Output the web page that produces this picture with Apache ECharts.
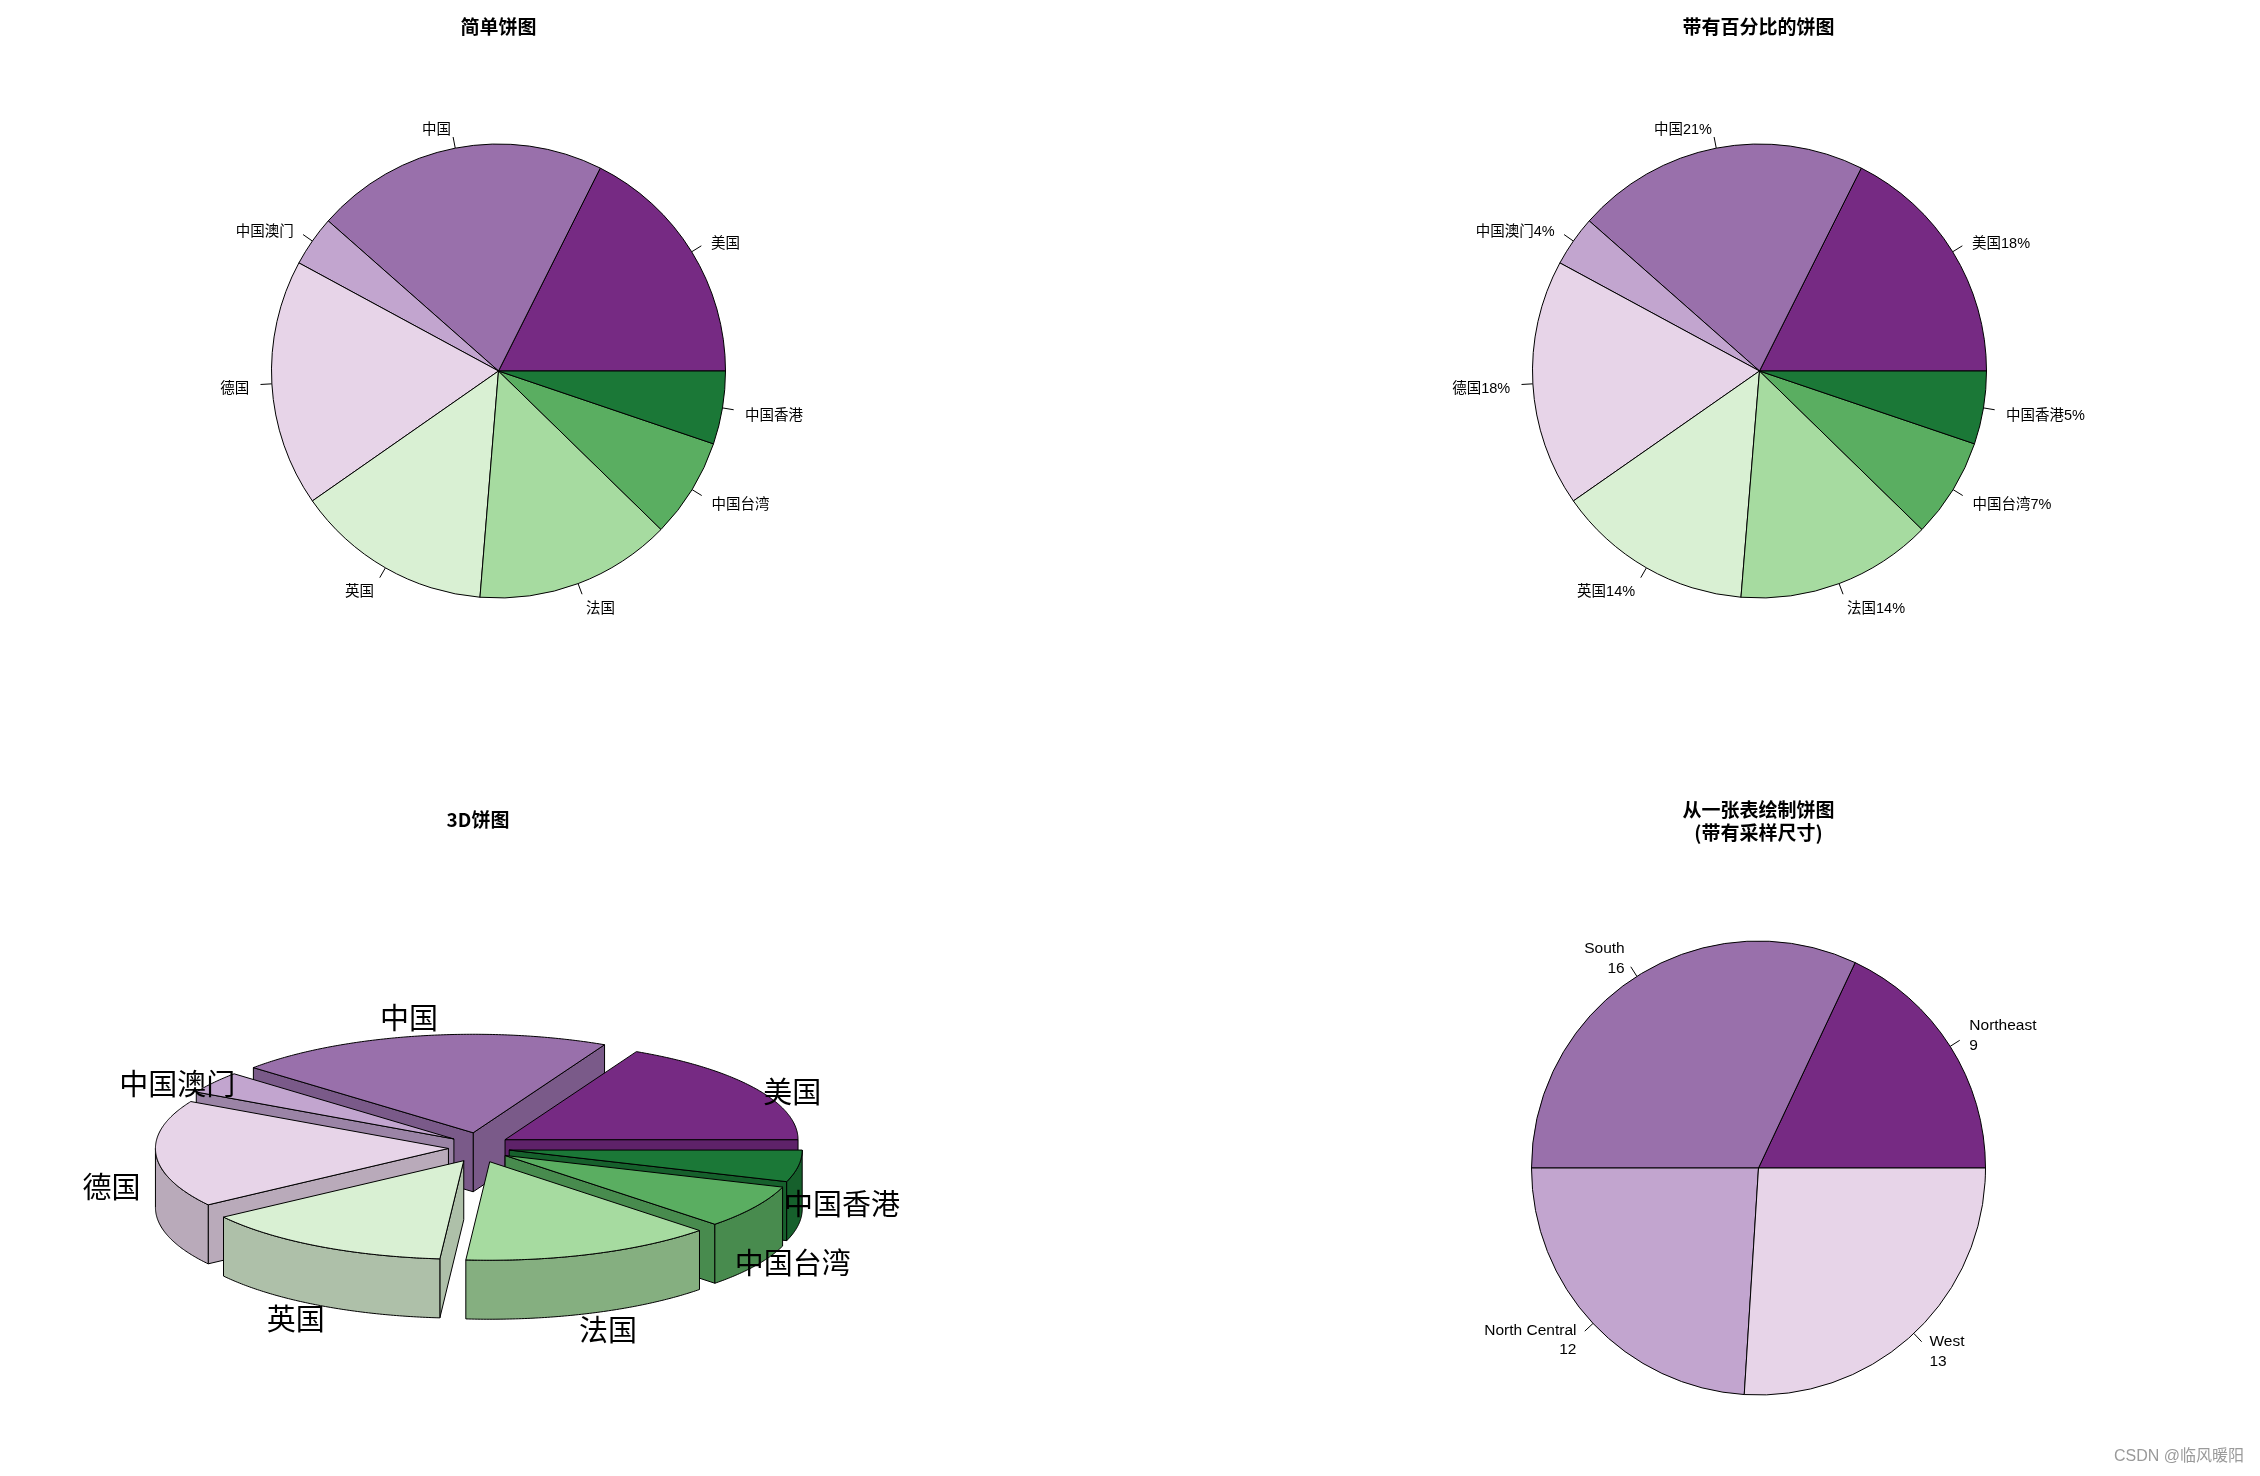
<!DOCTYPE html>
<html>
<head>
<meta charset="utf-8">
<script src="https://cdn.jsdelivr.net/npm/echarts@6/dist/echarts.min.js"></script>
<style>
html,body{margin:0;padding:0;background:#ffffff;}
#main{width:2260px;height:1476px;}
</style>
</head>
<body>
<div id="main"></div>
<script>
// ---------------- data ----------------
const countries = ['美国', '中国', '中国澳门', '德国', '英国', '法国', '中国台湾', '中国香港'];
const countryValues = [17.6, 20.9, 3.6, 17.6, 14.0, 14.0, 7.1, 5.2];
const regions = ['Northeast', 'South', 'North Central', 'West'];
const regionCounts = [9, 16, 12, 13];
const palette = ['#762A83', '#9970AB', '#C2A5CF', '#E7D4E8', '#D9F0D3', '#A6DBA0', '#5AAE61', '#1B7837'];
const chartTitles = ['简单饼图', '带有百分比的饼图', '3D饼图', '从一张表绘制饼图\n(带有采样尺寸)'];
const watermark = 'CSDN @临风暖阳';

// ---------------- helpers ----------------
const CJK = "'Noto Sans CJK SC', sans-serif";
const LAT = "'Liberation Sans', 'Noto Sans CJK SC', sans-serif";
const R = 227;
const sum = a => a.reduce((s, v) => s + v, 0);
const countryTotal = sum(countryValues);

function shade(hex, f) {
  const n = parseInt(hex.slice(1), 16);
  const r = Math.round(((n >> 16) & 255) * f);
  const g = Math.round(((n >> 8) & 255) * f);
  const b = Math.round((n & 255) * f);
  return 'rgb(' + r + ',' + g + ',' + b + ')';
}

function pieSeries(center, names, values, colors, formatter, labelStyle, shiftY) {
  return {
    type: 'pie',
    center: center,
    radius: R,
    startAngle: 0,
    clockwise: false,
    avoidLabelOverlap: false,
    animation: false,
    silent: true,
    data: names.map((n, i) => ({ name: n, value: values[i], itemStyle: { color: colors[i] } })),
    itemStyle: { borderColor: '#000', borderWidth: 1 },
    label: Object.assign({
      show: true,
      position: 'outside',
      color: '#000',
      distanceToLabelLine: 0,
      formatter: formatter
    }, labelStyle),
    labelLine: {
      show: true,
      length: 0.1 * R,
      length2: 0.01,
      smooth: false,
      lineStyle: { color: '#000', width: 1, type: [0.05 * R, 2000] }
    },
    labelLayout: function () { return { dy: shiftY }; },
    emphasis: { disabled: true }
  };
}

// ---------------- 3D pie geometry ----------------
const G3 = { cx: 479, cy: 1147.6, rx: 293, ry: 98.5, h: 59, ex: 30.6, ey: 15.1, lrx: 368, lry: 163, loff: 30 };
const starts3 = [];
(function () { let acc = 0; countryValues.forEach(v => { starts3.push(acc); acc += v; }); })();
const mids3 = countryValues.map((v, i) => (starts3[i] + v / 2) / countryTotal * 2 * Math.PI);
const order3 = mids3.map((m, i) => i).sort((a, b) => Math.sin(mids3[b]) - Math.sin(mids3[a]));
const rank3 = [];
order3.forEach((idx, r) => { rank3[idx] = r; });

function render3D(params, api) {
  const i = params.dataIndex;
  const v = api.value(1);
  const a0 = starts3[i] / countryTotal * 2 * Math.PI;
  const a1 = a0 + v / countryTotal * 2 * Math.PI;
  const m = (a0 + a1) / 2;
  const ox = G3.cx + G3.ex * Math.cos(m);
  const oy = G3.cy - G3.ey * Math.sin(m);
  const pt = (a, d) => [ox + G3.rx * Math.cos(a), oy - G3.ry * Math.sin(a) + (d || 0)];
  const arc = (s, e, d) => {
    const n = Math.max(2, Math.ceil(Math.abs(e - s) / 0.01));
    const out = [];
    for (let k = 0; k <= n; k++) out.push(pt(s + (e - s) * k / n, d));
    return out;
  };
  const top = palette[i];
  const side = shade(palette[i], 0.8);
  const z = rank3[i] * 10;
  const st = fill => ({ fill: fill, stroke: '#000', lineWidth: 1 });
  const ch = [];
  if (Math.cos(a0) > 1e-9) {
    ch.push({ type: 'polygon', z2: z + 1, shape: { points: [[ox, oy], pt(a0), pt(a0, G3.h), [ox, oy + G3.h]] }, style: st(side) });
  }
  if (Math.cos(a1) < -1e-9) {
    ch.push({ type: 'polygon', z2: z + 1, shape: { points: [[ox, oy], pt(a1), pt(a1, G3.h), [ox, oy + G3.h]] }, style: st(side) });
  }
  const s = Math.max(a0, Math.PI), e = Math.min(a1, 2 * Math.PI);
  if (e > s) {
    ch.push({ type: 'polygon', z2: z + 2, shape: { points: arc(s, e, 0).concat(arc(e, s, G3.h)) }, style: st(side) });
  }
  ch.push({ type: 'polygon', z2: z + 3, shape: { points: [[ox, oy]].concat(arc(a0, a1, 0)) }, style: st(top) });
  ch.push({
    type: 'text', z2: 1000,
    x: G3.cx + G3.lrx * Math.cos(m),
    y: G3.cy + G3.loff - G3.lry * Math.sin(m),
    style: { text: countries[i], fill: '#000', font: "29px 'Noto Sans CJK SC', sans-serif", align: 'center', verticalAlign: 'middle' }
  });
  return { type: 'group', children: ch };
}

// ---------------- option ----------------
const titleStyle = { fontFamily: CJK, fontWeight: 'bold', fontSize: 19, color: '#000', lineHeight: 23.5 };
const option = {
  backgroundColor: '#ffffff',
  animation: false,
  title: [
    { text: chartTitles[0], left: 493.5, top: 10.5, textAlign: 'center', textVerticalAlign: 'top', textStyle: titleStyle },
    { text: chartTitles[1], left: 1753.5, top: 10.5, textAlign: 'center', textVerticalAlign: 'top', textStyle: titleStyle },
    { text: chartTitles[2], left: 473, top: 803, textAlign: 'center', textVerticalAlign: 'top', textStyle: titleStyle },
    { text: chartTitles[3], left: 1753.5, top: 793, textAlign: 'center', textVerticalAlign: 'top', textStyle: titleStyle }
  ],
  graphic: [
    { type: 'text', x: 2244, y: 1457, style: { text: watermark, fill: '#9a9a9a', font: "16px 'Liberation Sans', 'Noto Sans CJK SC', sans-serif", align: 'right', verticalAlign: 'middle' } }
  ],
  series: [
    pieSeries([498.5, 371], countries, countryValues, palette,
      p => p.name,
      { fontFamily: LAT, fontSize: 14.5 }, 4),
    pieSeries([1759.5, 371], countries, countryValues, palette,
      p => p.name + Math.round(p.value / countryTotal * 100) + '%',
      { fontFamily: LAT, fontSize: 14.5 }, 4),
    {
      type: 'custom',
      coordinateSystem: 'none',
      animation: false,
      silent: true,
      renderItem: render3D,
      data: countryValues.map((v, i) => ({ name: countries[i], value: [i, v] }))
    },
    pieSeries([1758.5, 1168], regions, regionCounts, palette.slice(0, 4),
      p => p.name + '\n' + p.value,
      { fontFamily: LAT, fontSize: 15.5, lineHeight: 19.5 }, 1.5)
  ]
};

const chart = echarts.init(document.getElementById('main'), null, { renderer: 'canvas' });
chart.setOption(option);
</script>
</body>
</html>
